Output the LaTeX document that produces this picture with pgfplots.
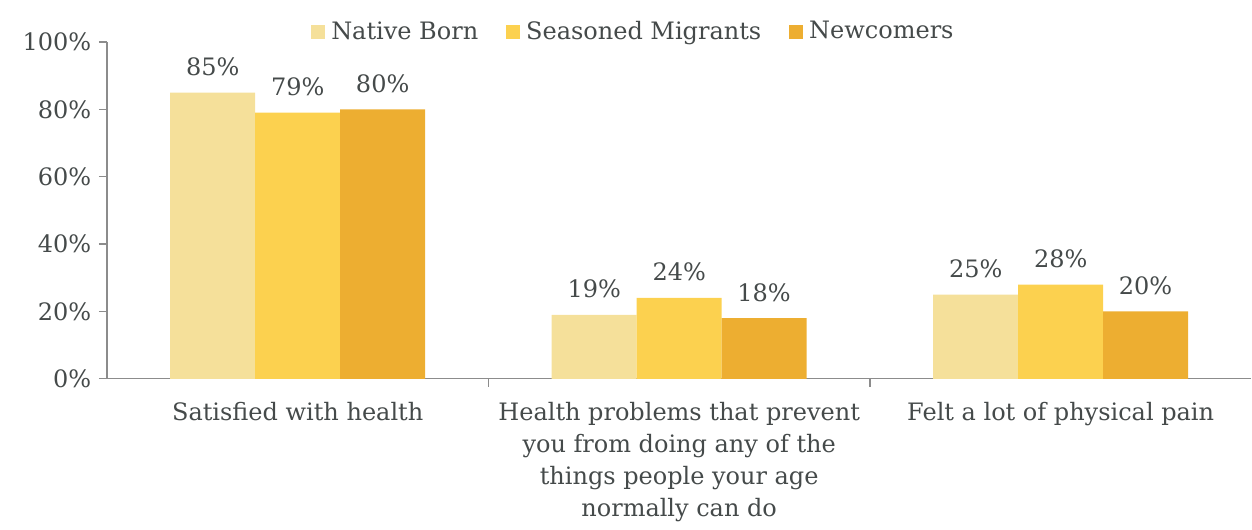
\documentclass[border=0pt]{standalone}
\usepackage{pgfplots}
\pgfplotsset{compat=1.18}
\usepackage{fontspec}
\setmainfont{DejaVu Serif}
\definecolor{txt}{HTML}{454A4A}
\definecolor{axgray}{HTML}{8C8C8C}
\definecolor{cA}{HTML}{F5E09A}
\definecolor{cB}{HTML}{FCD14F}
\definecolor{cC}{HTML}{EDAE31}
\begin{document}
\begin{tikzpicture}
\fontsize{23bp}{28bp}\selectfont
\begin{axis}[name=ax,
  scale only axis, width=1145bp, height=337bp,
  xmin=-0.5, xmax=2.5, ymin=0, ymax=100,
  ybar=0pt, bar width=85bp,
  axis x line*=bottom, axis y line*=left,
  axis line style={axgray, line width=1.2pt},
  xtick={0.5,1.5}, xticklabels={},
  x tick style={axgray, line width=1.2pt},
  extra x ticks={0,1,2},
  extra x tick labels={Satisfied with health,{Health problems that prevent\\you from doing any of the\\things people your age\\normally can do},Felt a lot of physical pain},
  extra x tick style={major tick length=0pt, tick style={draw=none}},
  xticklabel style={align=center, text=txt, font=\fontsize{24bp}{32bp}\selectfont, yshift=-16bp},
  ytick={0,20,40,60,80,100},
  yticklabel={\pgfmathprintnumber{\tick}\%},
  yticklabel style={text=txt, font=\fontsize{24bp}{28bp}\selectfont},
  /pgf/number format/assume math mode=true,
  tick align=outside, major tick length=8bp,
  y tick style={axgray, line width=1.2pt},
  nodes near coords={\pgfmathprintnumber{\pgfplotspointmeta}\%},
  nodes near coords style={text=txt, font=\fontsize{24bp}{28bp}\selectfont, yshift=9bp},
  legend style={at={(0.46,1.0)}, anchor=south, draw=none, legend columns=3,
    font=\fontsize{24bp}{28bp}\selectfont, text=txt, yshift=-5bp,
    /tikz/every even column/.append style={column sep=26bp}},
  legend image code/.code={\fill[#1] (0bp,-7bp) rectangle (14bp,7bp); \path (18bp,0bp);},
  clip=false,
]
\addplot[fill=cA, draw=none] coordinates {(0,85) (1,19) (2,25)};
\addplot[fill=cB, draw=none] coordinates {(0,79) (1,24) (2,28)};
\addplot[fill=cC, draw=none] coordinates {(0,80) (1,18) (2,20)};
\legend{Native Born, Seasoned Migrants, Newcomers}
\end{axis}
\path[use as bounding box] (ax.south west) ++(-107bp,-144bp) rectangle ++(1252bp,523bp);
\end{tikzpicture}
\end{document}
